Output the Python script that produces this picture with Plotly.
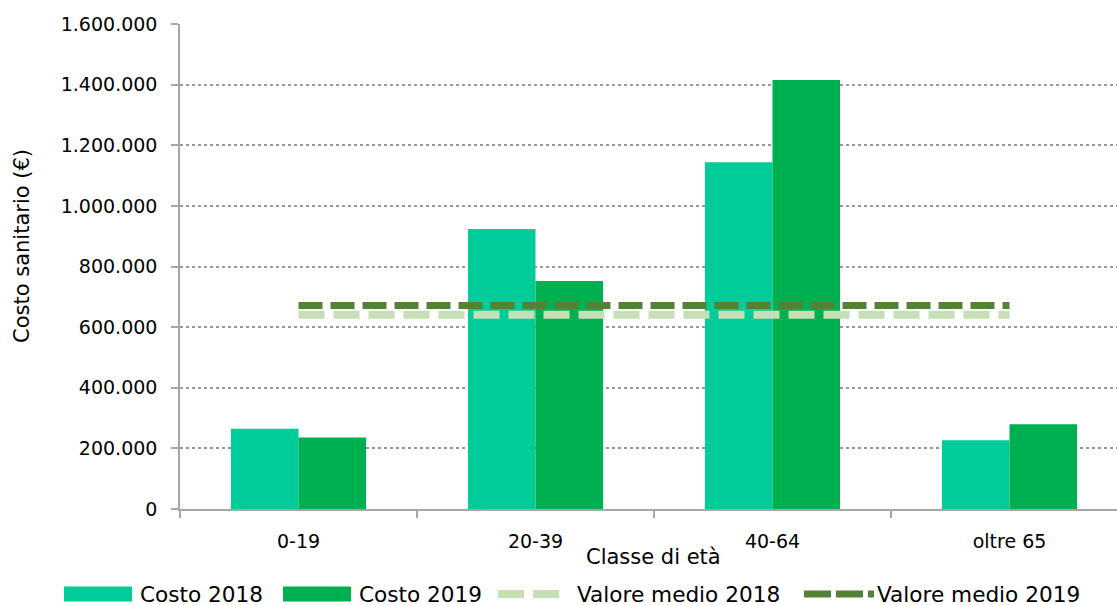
import plotly.graph_objects as go

# Age classes and yearly healthcare cost (EUR)
categories = ["0-19", "20-39", "40-64", "oltre 65"]
costo_2018 = [265000, 924000, 1144000, 227000]
costo_2019 = [236000, 752000, 1415000, 280000]
# Average value reference lines
media_2018 = [641000, 641000, 641000, 641000]
media_2019 = [671000, 671000, 671000, 671000]
y_tick_values = [0, 200000, 400000, 600000, 800000, 1000000, 1200000, 1400000, 1600000]

COL_2018 = "#00CC99"
COL_2019 = "#00B050"
COL_M2018 = "#C5E0B4"
COL_M2019 = "#548235"
GRID = "#A6A6A6"
FONT = "DejaVu Sans"

WIDTH, HEIGHT = 1117, 605
ML, MR, MT, MB = 180, 0, 24, 96
PW = WIDTH - ML - MR
PH = HEIGHT - MT - MB


def px_x(px):
    return (px - ML) / PW


def px_y(py):
    return (HEIGHT - MB - py) / PH


fig = go.Figure()
fig.add_trace(go.Bar(x=categories, y=costo_2018, name="Costo 2018",
                     marker=dict(color=COL_2018, line=dict(width=0))))
fig.add_trace(go.Bar(x=categories, y=costo_2019, name="Costo 2019",
                     marker=dict(color=COL_2019, line=dict(width=0))))
fig.add_trace(go.Scatter(x=categories, y=media_2018, name="Valore medio 2018",
                         mode="lines",
                         line=dict(color=COL_M2018, width=8, dash="26px,9px")))
fig.add_trace(go.Scatter(x=categories, y=media_2019, name="Valore medio 2019",
                         mode="lines",
                         line=dict(color=COL_M2019, width=7, dash="24px,8px")))

# category band is 237 px wide; the plot is clipped on the right edge
cat_px = 237.0
x_max = -0.5 + PW / cat_px

fig.update_layout(
    width=WIDTH, height=HEIGHT,
    margin=dict(l=ML, r=MR, t=MT, b=MB, pad=0),
    paper_bgcolor="white", plot_bgcolor="white",
    barmode="group", bargap=0.43, bargroupgap=0,
    showlegend=False,
    separators=",.",
    font=dict(family=FONT, size=19, color="#000000"),
    xaxis=dict(
        type="category", range=[-0.5, x_max],
        showline=True, linecolor=GRID, linewidth=1.5,
        ticks="outside", tickson="boundaries", ticklen=7, tickcolor=GRID, tickwidth=1.5,
        showgrid=False, zeroline=False,
        tickfont=dict(family=FONT, size=19, color="#000000"),
        ticklabelstandoff=14,
    ),
    yaxis=dict(
        range=[0, 1600000], tickvals=y_tick_values, tickformat=",d",
        showline=True, linecolor=GRID, linewidth=1.5,
        ticks="outside", ticklen=7, tickcolor=GRID, tickwidth=1.5,
        showgrid=True, gridcolor="#999999", gridwidth=1.5, griddash="dot",
        zeroline=False,
        tickfont=dict(family=FONT, size=19, color="#000000"),
        ticklabelstandoff=10,
    ),
)

annotations = [
    dict(text="Costo sanitario (€)", x=px_x(22), y=px_y(246), xref="paper", yref="paper",
         textangle=-90, showarrow=False, xanchor="center", yanchor="middle",
         font=dict(family=FONT, size=21, color="#000000")),
    dict(text="Classe di età", x=px_x(653), y=px_y(557), xref="paper", yref="paper",
         showarrow=False, xanchor="center", yanchor="middle", borderpad=0,
         font=dict(family=FONT, size=21, color="#000000")),
]

# Legend row drawn along the bottom
LEG_Y = 594
legend_text = [("Costo 2018", 139), ("Costo 2019", 358),
               ("Valore medio 2018", 576), ("Valore medio 2019", 876)]
for label, left in legend_text:
    annotations.append(dict(text=label, x=px_x(left), y=px_y(LEG_Y), xref="paper", yref="paper",
                            showarrow=False, xanchor="left", yanchor="middle",
                            borderpad=0, height=22, valign="middle",
                            font=dict(family=FONT, size=21.6, color="#000000")))

shapes = [
    dict(type="rect", xref="paper", yref="paper", x0=px_x(64), x1=px_x(132),
         y0=px_y(LEG_Y - 7.5), y1=px_y(LEG_Y + 7.5), fillcolor=COL_2018, line=dict(width=0)),
    dict(type="rect", xref="paper", yref="paper", x0=px_x(283), x1=px_x(351),
         y0=px_y(LEG_Y - 7.5), y1=px_y(LEG_Y + 7.5), fillcolor=COL_2019, line=dict(width=0)),
    dict(type="line", xref="paper", yref="paper", x0=px_x(498), x1=px_x(561),
         y0=px_y(LEG_Y), y1=px_y(LEG_Y), line=dict(color=COL_M2018, width=8, dash="26px,9px")),
    dict(type="line", xref="paper", yref="paper", x0=px_x(804), x1=px_x(874),
         y0=px_y(LEG_Y), y1=px_y(LEG_Y), line=dict(color=COL_M2019, width=7, dash="27px,5px")),
]

fig.update_layout(annotations=annotations, shapes=shapes)

fig.write_html("out.html")
